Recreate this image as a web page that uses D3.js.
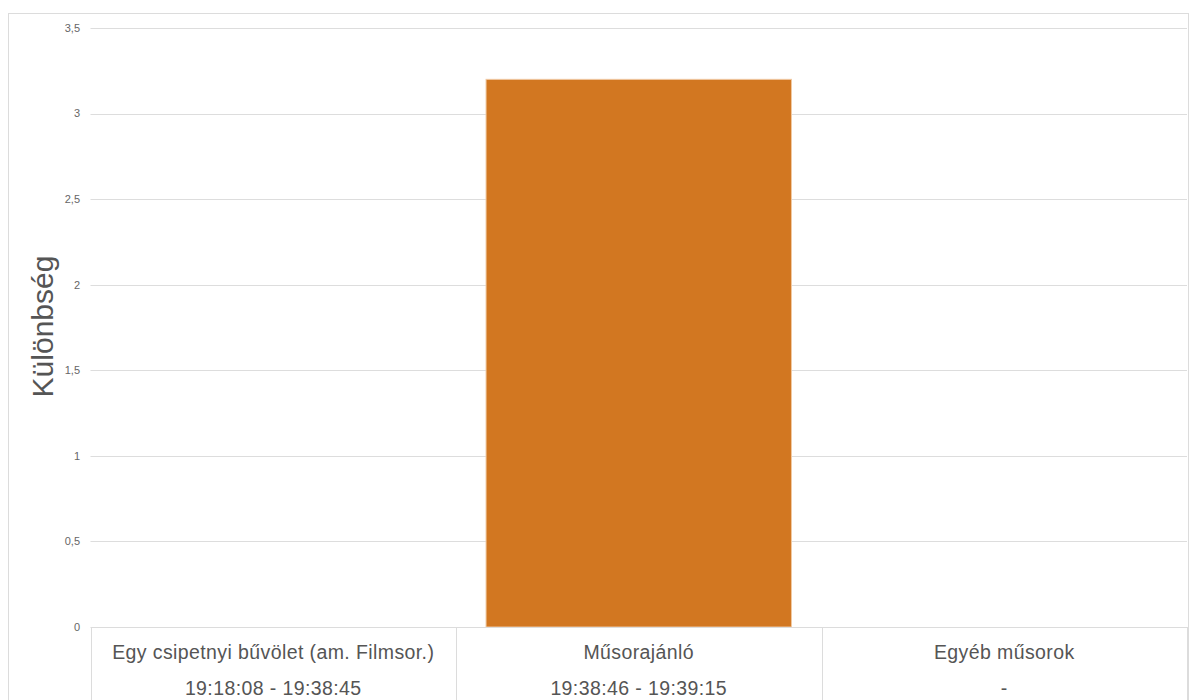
<!DOCTYPE html>
<html><head><meta charset="utf-8">
<script src="https://cdn.jsdelivr.net/npm/d3@7"></script>
<style>body{margin:0;background:#fff;}svg{display:block;font-family:"Liberation Sans",Arial,sans-serif;}</style>
</head><body>
<svg id="c" width="1190" height="700"></svg>
<script>
const categories = ["Egy csipetnyi bűvölet (am. Filmsor.)", "Műsorajánló", "Egyéb műsorok"];
const timeRanges = ["19:18:08 - 19:38:45", "19:38:46 - 19:39:15", "-"];
const values = [0, 3.2, 0];
const yTicks = [0, 0.5, 1, 1.5, 2, 2.5, 3, 3.5];
const yTitle = "Különbség";

(function () {
const svg = d3.select("#c");
const pLeft = 90.5, pRight = 1187, pTop = 28, pBottom = 627;
const x = d3.scaleBand().domain(categories).range([pLeft, pRight]).paddingInner(0).paddingOuter(0);
const y = d3.scaleLinear().domain([0, 3.5]).range([pBottom, pTop]);
const fmt = v => String(v).replace(".", ",");

// outer frame
svg.append("rect").attr("x", 8.5).attr("y", 13.5).attr("width", 1180).attr("height", 700)
  .attr("fill", "none").attr("stroke", "#dcdcdc");

// grid
svg.append("g").selectAll("line").data(yTicks.filter(d => d > 0)).join("line")
  .attr("x1", pLeft).attr("x2", pRight)
  .attr("y1", d => Math.round(y(d)) + 0.5).attr("y2", d => Math.round(y(d)) + 0.5)
  .attr("stroke", "#dddddd");

// tick labels
svg.append("g").selectAll("text").data(yTicks).join("text")
  .attr("x", 80).attr("y", d => y(d)).attr("dy", "0.35em")
  .attr("text-anchor", "end").attr("font-size", 11).attr("fill", "#666")
  .text(fmt);

// bars
const bw = x.bandwidth() * (305 / 365);
svg.append("g").selectAll("rect").data(values).join("rect")
  .attr("x", (d, i) => x(categories[i]) + (x.bandwidth() - bw) / 2)
  .attr("width", bw)
  .attr("y", d => y(d)).attr("height", d => y(0) - y(d))
  .attr("fill", "#d27721")
  .attr("stroke", d => d > 0 ? "#f0c9a3" : "none").attr("stroke-width", 1);

// category table
const tbl = svg.append("g");
tbl.append("line").attr("x1", pLeft).attr("x2", pRight).attr("y1", pBottom + 0.5).attr("y2", pBottom + 0.5).attr("stroke", "#dcdcdc");
const bounds = categories.map(c => x(c)).concat([pRight]);
tbl.selectAll("line.v").data(bounds).join("line").attr("class", "v")
  .attr("x1", d => Math.round(d) + 0.5).attr("x2", d => Math.round(d) + 0.5)
  .attr("y1", pBottom).attr("y2", 700).attr("stroke", "#dcdcdc");
tbl.selectAll("text.c").data(categories).join("text").attr("class", "c")
  .attr("x", d => x(d) + x.bandwidth() / 2).attr("y", 659)
  .attr("text-anchor", "middle").attr("font-size", 19.5).attr("letter-spacing", 0.4)
  .attr("fill", "#555").text(d => d);
tbl.selectAll("text.t").data(timeRanges).join("text").attr("class", "t")
  .attr("x", (d, i) => x(categories[i]) + x.bandwidth() / 2).attr("y", 695)
  .attr("text-anchor", "middle").attr("font-size", 19.5).attr("letter-spacing", 0.4)
  .attr("fill", "#555").text(d => d);

// y title
svg.append("text").attr("transform", "translate(53,326.5) rotate(-90)")
  .attr("text-anchor", "middle").attr("font-size", 30).attr("fill", "#555").text(yTitle);
})();
</script>
</body></html>
